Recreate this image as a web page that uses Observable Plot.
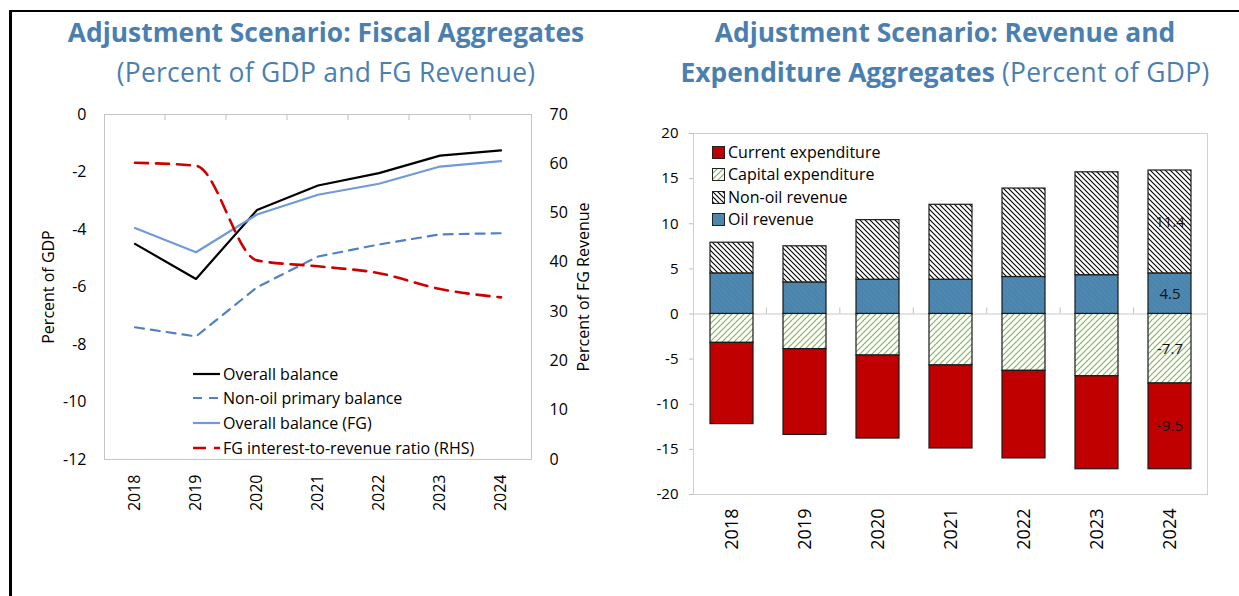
<!DOCTYPE html>
<html><head><meta charset="utf-8">
<script src="https://cdn.jsdelivr.net/npm/d3@7"></script>
<script src="https://cdn.jsdelivr.net/npm/@observablehq/plot@0.6"></script>
<style>
html,body{margin:0;padding:0;background:#fff;}
body{width:1239px;height:596px;position:relative;overflow:hidden;font-family:"Open Sans",sans-serif;}
#border{position:absolute;left:9px;top:10px;right:-5px;bottom:-5px;border-top:2px solid #000;border-left:3px solid #000;}
.title{position:absolute;color:#4a7fb0;font-size:26.4px;text-align:center;white-space:nowrap;line-height:40px;top:12px;letter-spacing:0.3px;}
.title b{font-weight:700;letter-spacing:0}
#left,#right{position:absolute;top:0}
#left{left:0} #right{left:620px}
.legrow{position:absolute;height:22px;line-height:22px;font-size:16px;color:#000;white-space:nowrap;display:flex;align-items:center;}
.legrow svg{display:block;margin-right:3px}
#right g[aria-label^="y-axis"] line, #right g[aria-label^="y-axis"] path{stroke:#bfbfbf}
</style>
</head><body>
<svg width="0" height="0" style="position:absolute">
 <defs>
  <pattern id="pNonOil" width="5" height="5" patternUnits="userSpaceOnUse">
   <rect width="5" height="5" fill="#fff"/>
   <path d="M-1,-1L6,6M-1,4L1,6M4,-1L6,1" stroke="#000" stroke-width="1.1"/>
  </pattern>
  <pattern id="pCap" width="6" height="6" patternUnits="userSpaceOnUse">
   <rect width="6" height="6" fill="#fff"/>
   <path d="M-1,7L7,-1M-1,1L1,-1M5,7L7,5" stroke="#84b657" stroke-width="1.2"/>
  </pattern>
  <pattern id="pOil" width="5" height="5" patternUnits="userSpaceOnUse">
   <rect width="5" height="5" fill="#4e88b0"/>
   <path d="M-1,-1L6,6M-1,4L1,6M4,-1L6,1" stroke="#4680a8" stroke-width="1"/>
  </pattern>
 </defs>
</svg>
<div id="border"></div>
<div class="title" style="left:0;width:652px"><b>Adjustment Scenario: Fiscal Aggregates</b><br>(Percent of GDP and FG Revenue)</div>
<div class="title" style="left:645px;width:600px"><b>Adjustment Scenario: Revenue and</b><br><b>Expenditure Aggregates</b> (Percent of GDP)</div>
<div id="left"></div>
<div id="right"></div>
<div id="legL"></div>
<div id="legR"></div>
<script>
// ---------- data ----------
const years = ["2018","2019","2020","2021","2022","2023","2024"];

// Left chart (percent of GDP; interest ratio on RHS, percent of FG revenue)
const overallBalance   = [-4.50,-5.72,-3.32,-2.47,-2.04,-1.43,-1.25];
const nonOilPrimary    = [-7.40,-7.72,-6.01,-4.94,-4.52,-4.17,-4.13];
const overallBalanceFG = [-3.95,-4.79,-3.48,-2.79,-2.41,-1.81,-1.62];
const interestRatio    = [60.2,59.6,40.4,39.2,37.8,34.6,32.9];
const leftTicks  = [0,-2,-4,-6,-8,-10,-12];
const rightTicks = [0,10,20,30,40,50,60,70];
const lineNames = ["Overall balance","Non-oil primary balance","Overall balance (FG)","FG interest-to-revenue ratio (RHS)"];

// Right chart (percent of GDP)
const oilRevenue         = [4.5,3.5,3.8,3.8,4.1,4.3,4.5];
const nonOilRevenue      = [3.4,4.0,6.6,8.3,9.8,11.4,11.4];
const capitalExpenditure = [-3.2,-3.9,-4.6,-5.7,-6.3,-6.9,-7.7];
const currentExpenditure = [-9.0,-9.5,-9.2,-9.2,-9.7,-10.3,-9.5];
const barTicks = [20,15,10,5,0,-5,-10,-15,-20];
const barNames = ["Current expenditure","Capital expenditure","Non-oil revenue","Oil revenue"];
const labelYear = "2024";

// ---------- left chart ----------
const L = {min:-12, max:0, rmin:0, rmax:70};
const toLeft = v => L.min + (v - L.rmin) * (L.max - L.min) / (L.rmax - L.rmin);
const series = (vals, name) => vals.map((v,i) => ({year: years[i], value: v, name}));
const sOB  = series(overallBalance, lineNames[0]);
const sNO  = series(nonOilPrimary, lineNames[1]);
const sFG  = series(overallBalanceFG, lineNames[2]);
const sIR  = series(interestRatio.map(toLeft), lineNames[3]);

const styles = {
  [lineNames[0]]: {stroke:"#000000", strokeWidth:2.2, dash:null, curve:"linear"},
  [lineNames[1]]: {stroke:"#4f81c4", strokeWidth:2.2, dash:"9,7", curve:"linear"},
  [lineNames[2]]: {stroke:"#6f99d8", strokeWidth:2.2, dash:null, curve:"linear"},
  [lineNames[3]]: {stroke:"#cc0000", strokeWidth:2.6, dash:"13,8", curve:"monotone-x"}
};
const lineMark = (data) => {
  const s = styles[data[0].name];
  return Plot.line(data, {x:"year", y:"value", stroke:s.stroke, strokeWidth:s.strokeWidth,
    strokeDasharray:s.dash, curve:s.curve});
};

const left = Plot.plot({
  width:620, height:596,
  marginLeft:104, marginRight:89, marginTop:114, marginBottom:137,
  style:{fontFamily:"Open Sans", fontSize:"16px", color:"#000", background:"transparent"},
  x:{type:"band", domain:years, padding:0, label:null, tickSize:0, tickPadding:15, tickRotate:-90},
  y:{domain:[L.min, L.max], ticks:leftTicks, tickSize:0, tickPadding:18, label:null, tickFormat:d=>String(d)},
  marks:[
    Plot.frame({stroke:"#c4c4c4"}),
    lineMark(sOB), lineMark(sNO), lineMark(sFG), lineMark(sIR),
    Plot.text(rightTicks, {y:d=>toLeft(d), text:d=>String(d), frameAnchor:"right", dx:18, textAnchor:"start", fontSize:16}),
    Plot.text(["Percent of FG Revenue"], {text:d=>d, frameAnchor:"right", dx:52, rotate:-90, textAnchor:"middle", fontSize:16}),
    Plot.text(["Percent of GDP"], {text:d=>d, frameAnchor:"left", dx:-56, rotate:-90, textAnchor:"middle", fontSize:16})
  ]
});
document.getElementById("left").appendChild(left);

function bandTicks(svg, y0, dir) {
  const sx = svg.scale("x"), sy = svg.scale("y");
  const [r0, r1] = sx.range, n = sx.domain.length;
  const yy = sy.apply(y0);
  const g = d3.select(svg).append("g").attr("stroke", "#bfbfbf");
  for (let i = 1; i < n; i++) {
    const xx = r0 + i * (r1 - r0) / n;
    g.append("line").attr("x1", xx).attr("x2", xx).attr("y1", yy).attr("y2", yy + dir * 6);
  }
}
bandTicks(left, L.max, 1);

// left legend
const legL = document.getElementById("legL");
const legTop = [374, 398, 423, 448];
lineNames.forEach((nm, i) => {
  const s = styles[nm];
  const row = document.createElement("div");
  row.className = "legrow";
  row.style.left = "193px"; row.style.top = (legTop[i] - 11) + "px";
  row.innerHTML = `<svg width="27" height="22"><line x1="0" x2="27" y1="11" y2="11" stroke="${s.stroke}" stroke-width="${s.strokeWidth}" ${s.dash ? `stroke-dasharray="${s.dash}"` : ""}/></svg><span>${nm}</span>`;
  legL.appendChild(row);
});

// ---------- right chart ----------
const fills = {
  "Oil revenue":"url(#pOil)",
  "Non-oil revenue":"url(#pNonOil)",
  "Capital expenditure":"url(#pCap)",
  "Current expenditure":"#c00000"
};
const stackOrder = ["Oil revenue","Non-oil revenue","Capital expenditure","Current expenditure"];
const stackVals = {
  "Oil revenue":oilRevenue, "Non-oil revenue":nonOilRevenue,
  "Capital expenditure":capitalExpenditure, "Current expenditure":currentExpenditure
};
const barData = [];
years.forEach((y, i) => stackOrder.forEach(s => barData.push({year:y, series:s, value:stackVals[s][i]})));

const right = Plot.plot({
  width:619, height:596,
  marginLeft:73, marginRight:32, marginTop:133, marginBottom:102,
  style:{fontFamily:"Open Sans", fontSize:"15px", color:"#000", background:"transparent"},
  x:{type:"band", domain:years, paddingInner:0.415, paddingOuter:0.2075, label:null, tickSize:0, tickPadding:14, tickRotate:-90},
  y:{domain:[-20,20], ticks:barTicks, tickSize:4, tickPadding:11, label:null, tickFormat:d=>String(d)},
  color:{domain:stackOrder, range:stackOrder.map(s=>fills[s])},
  marks:[
    Plot.frame({stroke:"#d0d0d0"}),
    Plot.ruleY([0], {stroke:"#c8c8c8"}),
    Plot.barY(barData, {x:"year", y:"value", fill:"series", z:"series", stroke:"#1a1a1a", strokeWidth:1.2}),
    Plot.text(barData.filter(d=>d.year===labelYear), Plot.stackY({x:"year", y:"value", z:"series", text:d=>d.value.toFixed(1), fill:"#111", fontSize:15}))
  ]
});
document.getElementById("right").appendChild(right);
d3.select(right).selectAll('g[aria-label^="x-axis"] text').style("font-size","18px");
bandTicks(right, 0, -1);

// right legend
const legR = document.getElementById("legR");
const legRTop = [152, 174, 197, 219];
barNames.forEach((nm, i) => {
  const row = document.createElement("div");
  row.className = "legrow";
  row.style.left = "712px"; row.style.top = (legRTop[i] - 11) + "px";
  row.innerHTML = `<svg width="13" height="13"><rect x="0.5" y="0.5" width="12" height="12" fill="${fills[nm]}" stroke="#222" stroke-width="1"/></svg><span>${nm}</span>`;
  legR.appendChild(row);
});
</script>
</body></html>
